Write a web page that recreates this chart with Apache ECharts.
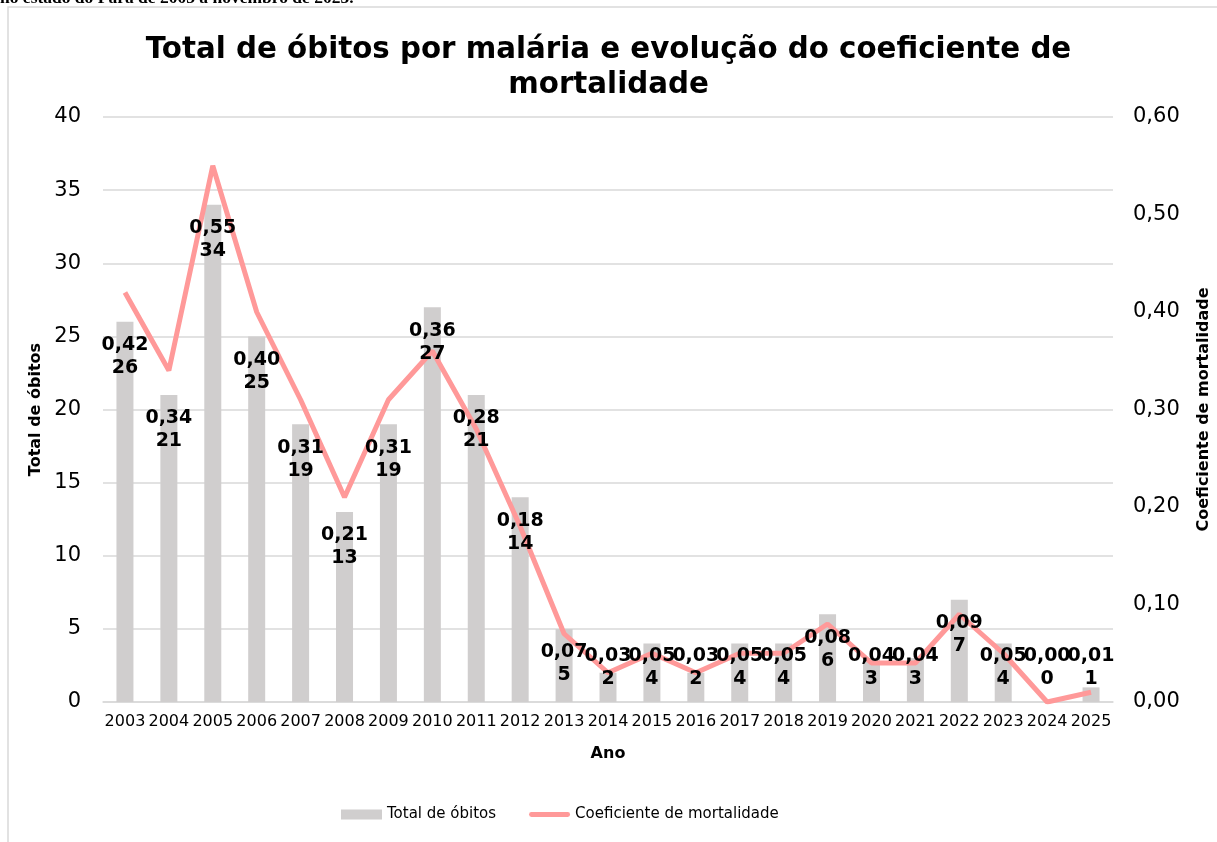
<!DOCTYPE html>
<html>
<head>
<meta charset="utf-8">
<title>Óbitos por malária</title>
<script src="https://cdn.jsdelivr.net/npm/echarts@6/dist/echarts.min.js"></script>
<style>
  html, body { margin: 0; padding: 0; background: #fff; }
  #chart { width: 1217px; height: 842px; }
</style>
</head>
<body>
<div id="chart"></div>
<script>
  // dados
  var anos = ['2003', '2004', '2005', '2006', '2007', '2008', '2009', '2010', '2011', '2012', '2013', '2014',
    '2015', '2016', '2017', '2018', '2019', '2020', '2021', '2022', '2023', '2024', '2025']
  var obitos = [26, 21, 34, 25, 19, 13, 19, 27, 21, 14, 5, 2, 4, 2, 4, 4, 6, 3, 3, 7, 4, 0, 1]
  var coeficiente = [0.42, 0.34, 0.55, 0.40, 0.31, 0.21, 0.31, 0.36, 0.28, 0.18, 0.07, 0.03, 0.05, 0.03,
    0.05, 0.05, 0.08, 0.04, 0.04, 0.09, 0.05, 0.00, 0.01]
  var ticksEsq = [0, 5, 10, 15, 20, 25, 30, 35, 40]
  var ticksDir = [0, 0.1, 0.2, 0.3, 0.4, 0.5, 0.6]

  var fonte = 'DejaVu Sans'
  var virgula = function (v, d) { return v.toFixed(d).replace('.', ',') }

  // rótulos: barras pequenas ficam com o rótulo acima da base
  var rotulos = obitos.map(function (v) {
    return {
      value: v,
      label: v < 5 ? {position: 'insideBottom', distance: 11} : {position: 'insideTop', distance: 12}
    }
  })

  var chart = echarts.init(document.getElementById('chart'))
  chart.setOption({
    animation: false,
    title: {
      text: 'Total de óbitos por malária e evolução do coeficiente de\nmortalidade',
      left: 'center',
      top: 28,
      textStyle: {fontFamily: fonte, fontSize: 29.3, fontWeight: 'bold', color: '#000', lineHeight: 35}
    },
    graphic: [
      {
        type: 'text', left: 0, top: -11,
        style: {text: 'no estado do Pará de 2003 a novembro de 2025.', font: 'bold 17.5px "Liberation Serif"', fill: '#000'}
      },
      {
        type: 'polyline', silent: true,
        shape: {points: [[8, 842], [8, 7], [1217, 7]]},
        style: {stroke: '#d9d9d9', lineWidth: 1.5, fill: null}
      }
    ],
    legend: {
      left: 336,
      top: 802,
      itemGap: 33,
      textStyle: {fontFamily: fonte, fontSize: 15, color: '#000'},
      data: [
        {name: 'Total de óbitos', icon: 'rect', itemStyle: {color: '#d0cece'}},
        {
          name: 'Coeficiente de mortalidade',
          icon: 'path://M0,0 M0,10 M1,2.5 L39,2.5 A2.5,2.5 0 0 1 39,7.5 L1,7.5 A2.5,2.5 0 0 1 1,2.5 Z',
          itemStyle: {color: '#ff9999'}
        }
      ],
      itemWidth: 41,
      itemHeight: 10
    },
    grid: {left: 103, right: 104, top: 117, bottom: 140, outerBoundsMode: 'none'},
    xAxis: {
      type: 'category',
      data: anos,
      name: 'Ano',
      nameLocation: 'middle',
      nameGap: 44,
      nameTextStyle: {fontFamily: fonte, fontSize: 16, fontWeight: 'bold', color: '#000'},
      axisTick: {show: false},
      axisLine: {lineStyle: {color: '#d9d9d9', width: 1.5}},
      axisLabel: {fontFamily: fonte, fontSize: 16, color: '#000', margin: 12, interval: 0}
    },
    yAxis: [
      {
        type: 'value',
        min: ticksEsq[0],
        max: ticksEsq[ticksEsq.length - 1],
        interval: 5,
        name: 'Total de óbitos',
        nameLocation: 'middle',
        nameRotate: 90,
        nameGap: 57,
        nameTextStyle: {fontFamily: fonte, fontSize: 16, fontWeight: 'bold', color: '#000'},
        axisLabel: {fontFamily: fonte, fontSize: 21, color: '#000', margin: 22},
        splitLine: {lineStyle: {color: '#d9d9d9', width: 1.5}}
      },
      {
        type: 'value',
        min: ticksDir[0],
        max: ticksDir[ticksDir.length - 1],
        interval: 0.1,
        name: 'Coeficiente de mortalidade',
        nameLocation: 'middle',
        nameRotate: 90,
        nameGap: 83,
        nameTextStyle: {fontFamily: fonte, fontSize: 16, fontWeight: 'bold', color: '#000'},
        axisLabel: {
          fontFamily: fonte, fontSize: 21, color: '#000', margin: 20,
          formatter: function (v) { return virgula(v, 2) }
        },
        splitLine: {show: false}
      }
    ],
    series: [
      {
        name: 'Total de óbitos',
        type: 'bar',
        barWidth: 17,
        itemStyle: {color: '#d0cece'},
        data: obitos,
        z: 2
      },
      {
        name: 'Coeficiente de mortalidade',
        type: 'line',
        yAxisIndex: 1,
        symbol: 'none',
        z: 3,
        lineStyle: {color: '#ff9999', width: 5},
        itemStyle: {color: '#ff9999'},
        data: coeficiente
      },
      {
        // só os rótulos, por cima da linha
        name: 'rotulos',
        type: 'bar',
        barWidth: 17,
        barGap: '-100%',
        silent: true,
        itemStyle: {color: 'rgba(0,0,0,0)'},
        data: rotulos,
        z: 10,
        label: {
          show: true,
          fontFamily: fonte,
          fontSize: 19,
          fontWeight: 'bold',
          color: '#000',
          lineHeight: 23,
          formatter: function (p) {
            return virgula(coeficiente[p.dataIndex], 2) + '\n' + p.value
          }
        }
      }
    ]
  })
</script>
</body>
</html>
